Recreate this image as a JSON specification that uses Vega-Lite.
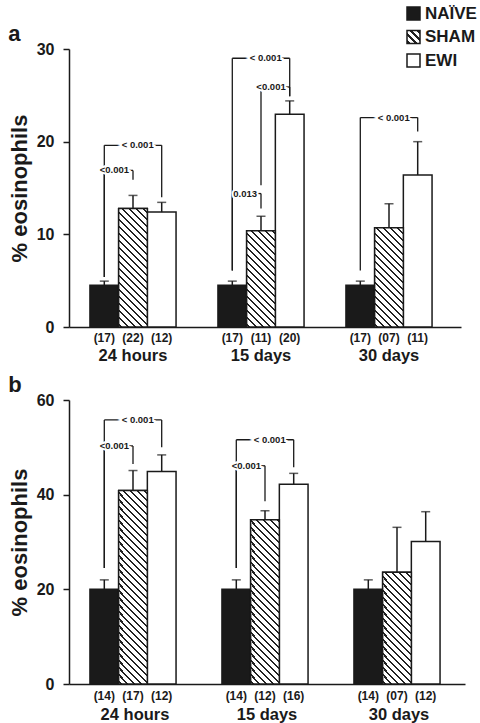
{
  "$schema": "https://vega.github.io/schema/vega-lite/v6.json",
  "padding": {"left": 8, "top": 5, "right": 0, "bottom": 0},
  "params": [
    {"name": "hatch", "value": [
      {"offset":0.005,"color":"#fff"},{"offset":0.005,"color":"#222"},{"offset":0.0125,"color":"#222"},{"offset":0.0125,"color":"#fff"},
      {"offset":0.03,"color":"#fff"},{"offset":0.03,"color":"#222"},{"offset":0.0375,"color":"#222"},{"offset":0.0375,"color":"#fff"},
      {"offset":0.055,"color":"#fff"},{"offset":0.055,"color":"#222"},{"offset":0.0625,"color":"#222"},{"offset":0.0625,"color":"#fff"},
      {"offset":0.08,"color":"#fff"},{"offset":0.08,"color":"#222"},{"offset":0.0875,"color":"#222"},{"offset":0.0875,"color":"#fff"},
      {"offset":0.105,"color":"#fff"},{"offset":0.105,"color":"#222"},{"offset":0.1125,"color":"#222"},{"offset":0.1125,"color":"#fff"},
      {"offset":0.13,"color":"#fff"},{"offset":0.13,"color":"#222"},{"offset":0.1375,"color":"#222"},{"offset":0.1375,"color":"#fff"},
      {"offset":0.155,"color":"#fff"},{"offset":0.155,"color":"#222"},{"offset":0.1625,"color":"#222"},{"offset":0.1625,"color":"#fff"},
      {"offset":0.18,"color":"#fff"},{"offset":0.18,"color":"#222"},{"offset":0.1875,"color":"#222"},{"offset":0.1875,"color":"#fff"},
      {"offset":0.205,"color":"#fff"},{"offset":0.205,"color":"#222"},{"offset":0.2125,"color":"#222"},{"offset":0.2125,"color":"#fff"},
      {"offset":0.23,"color":"#fff"},{"offset":0.23,"color":"#222"},{"offset":0.2375,"color":"#222"},{"offset":0.2375,"color":"#fff"},
      {"offset":0.255,"color":"#fff"},{"offset":0.255,"color":"#222"},{"offset":0.2625,"color":"#222"},{"offset":0.2625,"color":"#fff"},
      {"offset":0.28,"color":"#fff"},{"offset":0.28,"color":"#222"},{"offset":0.2875,"color":"#222"},{"offset":0.2875,"color":"#fff"},
      {"offset":0.305,"color":"#fff"},{"offset":0.305,"color":"#222"},{"offset":0.3125,"color":"#222"},{"offset":0.3125,"color":"#fff"},
      {"offset":0.33,"color":"#fff"},{"offset":0.33,"color":"#222"},{"offset":0.3375,"color":"#222"},{"offset":0.3375,"color":"#fff"},
      {"offset":0.355,"color":"#fff"},{"offset":0.355,"color":"#222"},{"offset":0.3625,"color":"#222"},{"offset":0.3625,"color":"#fff"},
      {"offset":0.38,"color":"#fff"},{"offset":0.38,"color":"#222"},{"offset":0.3875,"color":"#222"},{"offset":0.3875,"color":"#fff"},
      {"offset":0.405,"color":"#fff"},{"offset":0.405,"color":"#222"},{"offset":0.4125,"color":"#222"},{"offset":0.4125,"color":"#fff"},
      {"offset":0.43,"color":"#fff"},{"offset":0.43,"color":"#222"},{"offset":0.4375,"color":"#222"},{"offset":0.4375,"color":"#fff"},
      {"offset":0.455,"color":"#fff"},{"offset":0.455,"color":"#222"},{"offset":0.4625,"color":"#222"},{"offset":0.4625,"color":"#fff"},
      {"offset":0.48,"color":"#fff"},{"offset":0.48,"color":"#222"},{"offset":0.4875,"color":"#222"},{"offset":0.4875,"color":"#fff"},
      {"offset":0.505,"color":"#fff"},{"offset":0.505,"color":"#222"},{"offset":0.5125,"color":"#222"},{"offset":0.5125,"color":"#fff"},
      {"offset":0.53,"color":"#fff"},{"offset":0.53,"color":"#222"},{"offset":0.5375,"color":"#222"},{"offset":0.5375,"color":"#fff"},
      {"offset":0.555,"color":"#fff"},{"offset":0.555,"color":"#222"},{"offset":0.5625,"color":"#222"},{"offset":0.5625,"color":"#fff"},
      {"offset":0.58,"color":"#fff"},{"offset":0.58,"color":"#222"},{"offset":0.5875,"color":"#222"},{"offset":0.5875,"color":"#fff"},
      {"offset":0.605,"color":"#fff"},{"offset":0.605,"color":"#222"},{"offset":0.6125,"color":"#222"},{"offset":0.6125,"color":"#fff"},
      {"offset":0.63,"color":"#fff"},{"offset":0.63,"color":"#222"},{"offset":0.6375,"color":"#222"},{"offset":0.6375,"color":"#fff"},
      {"offset":0.655,"color":"#fff"},{"offset":0.655,"color":"#222"},{"offset":0.6625,"color":"#222"},{"offset":0.6625,"color":"#fff"},
      {"offset":0.68,"color":"#fff"},{"offset":0.68,"color":"#222"},{"offset":0.6875,"color":"#222"},{"offset":0.6875,"color":"#fff"},
      {"offset":0.705,"color":"#fff"},{"offset":0.705,"color":"#222"},{"offset":0.7125,"color":"#222"},{"offset":0.7125,"color":"#fff"},
      {"offset":0.73,"color":"#fff"},{"offset":0.73,"color":"#222"},{"offset":0.7375,"color":"#222"},{"offset":0.7375,"color":"#fff"},
      {"offset":0.755,"color":"#fff"},{"offset":0.755,"color":"#222"},{"offset":0.7625,"color":"#222"},{"offset":0.7625,"color":"#fff"},
      {"offset":0.78,"color":"#fff"},{"offset":0.78,"color":"#222"},{"offset":0.7875,"color":"#222"},{"offset":0.7875,"color":"#fff"},
      {"offset":0.805,"color":"#fff"},{"offset":0.805,"color":"#222"},{"offset":0.8125,"color":"#222"},{"offset":0.8125,"color":"#fff"}
    ]}
  ],
  "datasets": {
    "bars_a": [
      {"time":"24 hours","group":"NAÏVE","value":4.5,"hi":4.95,"n":"(17)"},
      {"time":"24 hours","group":"SHAM","value":12.8,"hi":14.2,"n":"(22)"},
      {"time":"24 hours","group":"EWI","value":12.4,"hi":13.45,"n":"(12)"},
      {"time":"15 days","group":"NAÏVE","value":4.5,"hi":4.95,"n":"(17)"},
      {"time":"15 days","group":"SHAM","value":10.4,"hi":11.95,"n":"(11)"},
      {"time":"15 days","group":"EWI","value":22.95,"hi":24.4,"n":"(20)"},
      {"time":"30 days","group":"NAÏVE","value":4.5,"hi":4.95,"n":"(17)"},
      {"time":"30 days","group":"SHAM","value":10.7,"hi":13.3,"n":"(07)"},
      {"time":"30 days","group":"EWI","value":16.4,"hi":20.0,"n":"(11)"}
    ],
    "brk_a": [
      {"time":"24 hours","from":"NAÏVE","to":"EWI","top":19.6,"yFrom":5.4,"yTo":14.0,"label":"< 0.001"},
      {"time":"24 hours","from":"NAÏVE","to":"SHAM","top":16.9,"yFrom":5.4,"yTo":15.9,"label":"<0.001"},
      {"time":"15 days","from":"NAÏVE","to":"EWI","top":29.0,"yFrom":6.1,"yTo":24.9,"label":"< 0.001"},
      {"time":"15 days","from":"SHAM","to":"EWI","top":25.9,"yFrom":15.3,"yTo":24.9,"label":"<0.001"},
      {"time":"15 days","from":"NAÏVE","to":"SHAM","top":14.4,"yFrom":6.1,"yTo":12.8,"label":"0.013"},
      {"time":"30 days","from":"NAÏVE","to":"EWI","top":22.6,"yFrom":6.1,"yTo":21.1,"label":"< 0.001"}
    ],
    "bars_b": [
      {"time":"24 hours","group":"NAÏVE","value":20.0,"hi":22.0,"n":"(14)"},
      {"time":"24 hours","group":"SHAM","value":40.9,"hi":45.1,"n":"(17)"},
      {"time":"24 hours","group":"EWI","value":44.9,"hi":48.4,"n":"(12)"},
      {"time":"15 days","group":"NAÏVE","value":20.0,"hi":22.0,"n":"(14)"},
      {"time":"15 days","group":"SHAM","value":34.7,"hi":36.6,"n":"(12)"},
      {"time":"15 days","group":"EWI","value":42.2,"hi":44.5,"n":"(16)"},
      {"time":"30 days","group":"NAÏVE","value":20.0,"hi":22.0,"n":"(14)"},
      {"time":"30 days","group":"SHAM","value":23.6,"hi":33.1,"n":"(07)"},
      {"time":"30 days","group":"EWI","value":30.1,"hi":36.4,"n":"(12)"}
    ],
    "brk_b": [
      {"time":"24 hours","from":"NAÏVE","to":"EWI","top":55.8,"yFrom":24.5,"yTo":50.0,"label":"< 0.001"},
      {"time":"24 hours","from":"NAÏVE","to":"SHAM","top":50.3,"yFrom":24.5,"yTo":46.5,"label":"<0.001"},
      {"time":"15 days","from":"NAÏVE","to":"EWI","top":51.6,"yFrom":24.5,"yTo":45.8,"label":"< 0.001"},
      {"time":"15 days","from":"NAÏVE","to":"SHAM","top":46.1,"yFrom":24.5,"yTo":38.6,"label":"<0.001"}
    ]
  },
  "spacing": 10,
  "vconcat": [
    {
      "width": 392, "height": 278,
      "title": {"text": "a", "anchor": "start", "frame": "bounds", "fontSize": 22, "fontWeight": "bold", "color": "#1a1a1a", "offset": -5},
      "encoding": {"x": {"field": "time", "type": "nominal", "scale": {"domain": ["24 hours","15 days","30 days"], "paddingInner": 0, "paddingOuter": 0.03125, "align": 0}, "axis": {"labelPadding": 20, "title": null}}},
      "layer": [
        {"data": {"name": "bars_a"}, "mark": {"type": "bar", "stroke": "#1a1a1a", "strokeWidth": 1.5},
         "encoding": {
           "xOffset": {"field": "group", "type": "nominal", "scale": {"domain": ["NAÏVE","SHAM","EWI"], "paddingInner": 0, "paddingOuter": 0.73}},
           "y": {"field": "value", "type": "quantitative", "scale": {"domain": [0, 30]}, "axis": {"values": [0,10,20,30], "title": "% eosinophils"}},
           "fill": {"field": "group", "type": "nominal", "scale": {"domain": ["NAÏVE","SHAM","EWI"], "range": ["#1a1a1a", {"expr": "{gradient: 'linear', x1: 0, y1: 1, x2: 10.77, y2: -9.77, stops: hatch}"}, "#ffffff"]},
             "legend": {"orient": "none", "legendX": 336, "legendY": -44, "title": null, "symbolType": "square", "symbolSize": 169, "symbolStrokeColor": "#1a1a1a", "symbolStrokeWidth": 1.5, "labelFontSize": 17, "labelFontWeight": "bold", "labelColor": "#1a1a1a", "labelOffset": 3, "rowPadding": 4.5, "padding": 0,
               "encode": {"symbols": {"update": {"stroke": {"value": "#1a1a1a"}, "strokeWidth": {"value": 1.5}, "opacity": {"value": 1}}}}}}
         }},
        {"data": {"name": "bars_a"}, "transform": [{"filter": "datum.group === 'SHAM'"}],
         "mark": {"type": "bar", "stroke": "#1a1a1a", "strokeWidth": 1.5, "fill": {"expr": "{gradient: 'linear', x1: 0, y1: 1, x2: 280*28.7/(823.7+pow(datum.value*9.2667,2)), y2: 1-280*datum.value*9.2667/(823.7+pow(datum.value*9.2667,2)), stops: hatch}"}},
         "encoding": {
           "xOffset": {"field": "group", "type": "nominal", "scale": {"domain": ["NAÏVE","SHAM","EWI"], "paddingInner": 0, "paddingOuter": 0.73}},
           "y": {"field": "value", "type": "quantitative", "scale": {"domain": [0, 30]}, "axis": {"values": [0,10,20,30], "title": "% eosinophils"}}
         }},
        {"data": {"name": "bars_a"}, "mark": {"type": "rule", "color": "#1a1a1a", "strokeWidth": 1.5},
         "encoding": {
           "xOffset": {"field": "group", "type": "nominal", "scale": {"domain": ["NAÏVE","SHAM","EWI"], "paddingInner": 0, "paddingOuter": 0.73}},
           "y": {"field": "value", "type": "quantitative", "scale": {"domain": [0, 30]}, "axis": {"values": [0,10,20,30], "title": "% eosinophils"}},
           "y2": {"field": "hi"}
         }},
        {"data": {"name": "bars_a"}, "mark": {"type": "tick", "color": "#1a1a1a", "size": 9, "thickness": 1.5},
         "encoding": {
           "xOffset": {"field": "group", "type": "nominal", "scale": {"domain": ["NAÏVE","SHAM","EWI"], "paddingInner": 0, "paddingOuter": 0.73}},
           "y": {"field": "hi", "type": "quantitative", "scale": {"domain": [0, 30]}, "axis": {"values": [0,10,20,30], "title": "% eosinophils"}}
         }},
        {"data": {"name": "bars_a"}, "mark": {"type": "text", "dy": 15, "baseline": "alphabetic", "fontSize": 12, "fontWeight": "bold", "color": "#1a1a1a"},
         "encoding": {
           "xOffset": {"field": "group", "type": "nominal", "scale": {"domain": ["NAÏVE","SHAM","EWI"], "paddingInner": 0, "paddingOuter": 0.73}},
           "y": {"datum": 0, "type": "quantitative", "scale": {"domain": [0, 30]}, "axis": {"values": [0,10,20,30], "title": "% eosinophils"}},
           "text": {"field": "n"}
         }},
        {"data": {"name": "brk_a"}, "mark": {"type": "rule", "color": "#1a1a1a", "strokeWidth": 1.3},
         "encoding": {
           "xOffset": {"field": "from", "type": "nominal", "scale": {"domain": ["NAÏVE","SHAM","EWI"], "paddingInner": 0, "paddingOuter": 0.73}},
           "y": {"field": "yFrom", "type": "quantitative", "scale": {"domain": [0, 30]}, "axis": {"values": [0,10,20,30], "title": "% eosinophils"}},
           "y2": {"field": "top"}
         }},
        {"data": {"name": "brk_a"}, "mark": {"type": "rule", "color": "#1a1a1a", "strokeWidth": 1.3},
         "encoding": {
           "xOffset": {"field": "to", "type": "nominal", "scale": {"domain": ["NAÏVE","SHAM","EWI"], "paddingInner": 0, "paddingOuter": 0.73}},
           "y": {"field": "yTo", "type": "quantitative", "scale": {"domain": [0, 30]}, "axis": {"values": [0,10,20,30], "title": "% eosinophils"}},
           "y2": {"field": "top"}
         }},
        {"data": {"name": "brk_a"}, "transform": [{"fold": ["from","to"], "as": ["end","grp"]}],
         "mark": {"type": "line", "color": "#1a1a1a", "strokeWidth": 1.3},
         "encoding": {
           "xOffset": {"field": "grp", "type": "nominal", "scale": {"domain": ["NAÏVE","SHAM","EWI"], "paddingInner": 0, "paddingOuter": 0.73}},
           "y": {"field": "top", "type": "quantitative", "scale": {"domain": [0, 30]}, "axis": {"values": [0,10,20,30], "title": "% eosinophils"}},
           "detail": [{"field": "time"},{"field": "from"},{"field": "to"}]
         }},
        {"data": {"name": "brk_a"}, "transform": [{"filter": "datum.from === 'NAÏVE' && datum.to === 'EWI'"}],
         "mark": {"type": "text", "align": "right", "baseline": "middle", "dx": -8, "fontSize": 9.5, "fontWeight": "bold", "fill": "#ffffff", "stroke": "#ffffff", "strokeWidth": 4},
         "encoding": {
           "xOffset": {"field": "to", "type": "nominal", "scale": {"domain": ["NAÏVE","SHAM","EWI"], "paddingInner": 0, "paddingOuter": 0.73}},
           "y": {"field": "top", "type": "quantitative", "scale": {"domain": [0, 30]}, "axis": {"values": [0,10,20,30], "title": "% eosinophils"}},
           "text": {"field": "label"}
         }},
        {"data": {"name": "brk_a"}, "transform": [{"filter": "!(datum.from === 'NAÏVE' && datum.to === 'EWI')"}],
         "mark": {"type": "text", "align": "right", "baseline": "middle", "dx": -4, "fontSize": 9.5, "fontWeight": "bold", "fill": "#ffffff", "stroke": "#ffffff", "strokeWidth": 4},
         "encoding": {
           "xOffset": {"field": "to", "type": "nominal", "scale": {"domain": ["NAÏVE","SHAM","EWI"], "paddingInner": 0, "paddingOuter": 0.73}},
           "y": {"field": "top", "type": "quantitative", "scale": {"domain": [0, 30]}, "axis": {"values": [0,10,20,30], "title": "% eosinophils"}},
           "text": {"field": "label"}
         }},
        {"data": {"name": "brk_a"}, "transform": [{"filter": "datum.from === 'NAÏVE' && datum.to === 'EWI'"}],
         "mark": {"type": "text", "align": "right", "baseline": "middle", "dx": -8, "fontSize": 9.5, "fontWeight": "bold", "color": "#1a1a1a"},
         "encoding": {
           "xOffset": {"field": "to", "type": "nominal", "scale": {"domain": ["NAÏVE","SHAM","EWI"], "paddingInner": 0, "paddingOuter": 0.73}},
           "y": {"field": "top", "type": "quantitative", "scale": {"domain": [0, 30]}, "axis": {"values": [0,10,20,30], "title": "% eosinophils"}},
           "text": {"field": "label"}
         }},
        {"data": {"name": "brk_a"}, "transform": [{"filter": "!(datum.from === 'NAÏVE' && datum.to === 'EWI')"}],
         "mark": {"type": "text", "align": "right", "baseline": "middle", "dx": -4, "fontSize": 9.5, "fontWeight": "bold", "color": "#1a1a1a"},
         "encoding": {
           "xOffset": {"field": "to", "type": "nominal", "scale": {"domain": ["NAÏVE","SHAM","EWI"], "paddingInner": 0, "paddingOuter": 0.73}},
           "y": {"field": "top", "type": "quantitative", "scale": {"domain": [0, 30]}, "axis": {"values": [0,10,20,30], "title": "% eosinophils"}},
           "text": {"field": "label"}
         }}
      ]
    },
    {
      "width": 396, "height": 284,
      "title": {"text": "b", "anchor": "start", "frame": "bounds", "fontSize": 22, "fontWeight": "bold", "color": "#1a1a1a", "offset": -5},
      "encoding": {"x": {"field": "time", "type": "nominal", "scale": {"domain": ["24 hours","15 days","30 days"], "paddingInner": 0, "paddingOuter": 0}, "axis": {"labelPadding": 22, "title": null}}},
      "layer": [
        {"data": {"name": "bars_b"}, "mark": {"type": "bar", "stroke": "#1a1a1a", "strokeWidth": 1.5},
         "encoding": {
           "xOffset": {"field": "group", "type": "nominal", "scale": {"domain": ["NAÏVE","SHAM","EWI"], "paddingInner": 0, "paddingOuter": 0.73}},
           "y": {"field": "value", "type": "quantitative", "scale": {"domain": [0, 60]}, "axis": {"values": [0,20,40,60], "title": "% eosinophils"}},
           "fill": {"field": "group", "type": "nominal", "scale": {"domain": ["NAÏVE","SHAM","EWI"], "range": ["#1a1a1a", {"expr": "{gradient: 'linear', x1: 0, y1: 1, x2: 10.77, y2: -9.77, stops: hatch}"}, "#ffffff"]},
             "legend": {"orient": "none", "legendX": 336, "legendY": -44, "title": null, "symbolType": "square", "symbolSize": 169, "symbolStrokeColor": "#1a1a1a", "symbolStrokeWidth": 1.5, "labelFontSize": 17, "labelFontWeight": "bold", "labelColor": "#1a1a1a", "labelOffset": 3, "rowPadding": 4.5, "padding": 0,
               "encode": {"symbols": {"update": {"stroke": {"value": "#1a1a1a"}, "strokeWidth": {"value": 1.5}, "opacity": {"value": 1}}}}}}
         }},
        {"data": {"name": "bars_b"}, "transform": [{"filter": "datum.group === 'SHAM'"}],
         "mark": {"type": "bar", "stroke": "#1a1a1a", "strokeWidth": 1.5, "fill": {"expr": "{gradient: 'linear', x1: 0, y1: 1, x2: 280*29.6/(876.2+pow(datum.value*4.7333,2)), y2: 1-280*datum.value*4.7333/(876.2+pow(datum.value*4.7333,2)), stops: hatch}"}},
         "encoding": {
           "xOffset": {"field": "group", "type": "nominal", "scale": {"domain": ["NAÏVE","SHAM","EWI"], "paddingInner": 0, "paddingOuter": 0.73}},
           "y": {"field": "value", "type": "quantitative", "scale": {"domain": [0, 60]}, "axis": {"values": [0,20,40,60], "title": "% eosinophils"}}
         }},
        {"data": {"name": "bars_b"}, "mark": {"type": "rule", "color": "#1a1a1a", "strokeWidth": 1.5},
         "encoding": {
           "xOffset": {"field": "group", "type": "nominal", "scale": {"domain": ["NAÏVE","SHAM","EWI"], "paddingInner": 0, "paddingOuter": 0.73}},
           "y": {"field": "value", "type": "quantitative", "scale": {"domain": [0, 60]}, "axis": {"values": [0,20,40,60], "title": "% eosinophils"}},
           "y2": {"field": "hi"}
         }},
        {"data": {"name": "bars_b"}, "mark": {"type": "tick", "color": "#1a1a1a", "size": 9, "thickness": 1.5},
         "encoding": {
           "xOffset": {"field": "group", "type": "nominal", "scale": {"domain": ["NAÏVE","SHAM","EWI"], "paddingInner": 0, "paddingOuter": 0.73}},
           "y": {"field": "hi", "type": "quantitative", "scale": {"domain": [0, 60]}, "axis": {"values": [0,20,40,60], "title": "% eosinophils"}}
         }},
        {"data": {"name": "bars_b"}, "mark": {"type": "text", "dy": 16, "baseline": "alphabetic", "fontSize": 12, "fontWeight": "bold", "color": "#1a1a1a"},
         "encoding": {
           "xOffset": {"field": "group", "type": "nominal", "scale": {"domain": ["NAÏVE","SHAM","EWI"], "paddingInner": 0, "paddingOuter": 0.73}},
           "y": {"datum": 0, "type": "quantitative", "scale": {"domain": [0, 60]}, "axis": {"values": [0,20,40,60], "title": "% eosinophils"}},
           "text": {"field": "n"}
         }},
        {"data": {"name": "brk_b"}, "mark": {"type": "rule", "color": "#1a1a1a", "strokeWidth": 1.3},
         "encoding": {
           "xOffset": {"field": "from", "type": "nominal", "scale": {"domain": ["NAÏVE","SHAM","EWI"], "paddingInner": 0, "paddingOuter": 0.73}},
           "y": {"field": "yFrom", "type": "quantitative", "scale": {"domain": [0, 60]}, "axis": {"values": [0,20,40,60], "title": "% eosinophils"}},
           "y2": {"field": "top"}
         }},
        {"data": {"name": "brk_b"}, "mark": {"type": "rule", "color": "#1a1a1a", "strokeWidth": 1.3},
         "encoding": {
           "xOffset": {"field": "to", "type": "nominal", "scale": {"domain": ["NAÏVE","SHAM","EWI"], "paddingInner": 0, "paddingOuter": 0.73}},
           "y": {"field": "yTo", "type": "quantitative", "scale": {"domain": [0, 60]}, "axis": {"values": [0,20,40,60], "title": "% eosinophils"}},
           "y2": {"field": "top"}
         }},
        {"data": {"name": "brk_b"}, "transform": [{"fold": ["from","to"], "as": ["end","grp"]}],
         "mark": {"type": "line", "color": "#1a1a1a", "strokeWidth": 1.3},
         "encoding": {
           "xOffset": {"field": "grp", "type": "nominal", "scale": {"domain": ["NAÏVE","SHAM","EWI"], "paddingInner": 0, "paddingOuter": 0.73}},
           "y": {"field": "top", "type": "quantitative", "scale": {"domain": [0, 60]}, "axis": {"values": [0,20,40,60], "title": "% eosinophils"}},
           "detail": [{"field": "time"},{"field": "from"},{"field": "to"}]
         }},
        {"data": {"name": "brk_b"}, "transform": [{"filter": "datum.from === 'NAÏVE' && datum.to === 'EWI'"}],
         "mark": {"type": "text", "align": "right", "baseline": "middle", "dx": -8, "fontSize": 9.5, "fontWeight": "bold", "fill": "#ffffff", "stroke": "#ffffff", "strokeWidth": 4},
         "encoding": {
           "xOffset": {"field": "to", "type": "nominal", "scale": {"domain": ["NAÏVE","SHAM","EWI"], "paddingInner": 0, "paddingOuter": 0.73}},
           "y": {"field": "top", "type": "quantitative", "scale": {"domain": [0, 60]}, "axis": {"values": [0,20,40,60], "title": "% eosinophils"}},
           "text": {"field": "label"}
         }},
        {"data": {"name": "brk_b"}, "transform": [{"filter": "!(datum.from === 'NAÏVE' && datum.to === 'EWI')"}],
         "mark": {"type": "text", "align": "right", "baseline": "middle", "dx": -4, "fontSize": 9.5, "fontWeight": "bold", "fill": "#ffffff", "stroke": "#ffffff", "strokeWidth": 4},
         "encoding": {
           "xOffset": {"field": "to", "type": "nominal", "scale": {"domain": ["NAÏVE","SHAM","EWI"], "paddingInner": 0, "paddingOuter": 0.73}},
           "y": {"field": "top", "type": "quantitative", "scale": {"domain": [0, 60]}, "axis": {"values": [0,20,40,60], "title": "% eosinophils"}},
           "text": {"field": "label"}
         }},
        {"data": {"name": "brk_b"}, "transform": [{"filter": "datum.from === 'NAÏVE' && datum.to === 'EWI'"}],
         "mark": {"type": "text", "align": "right", "baseline": "middle", "dx": -8, "fontSize": 9.5, "fontWeight": "bold", "color": "#1a1a1a"},
         "encoding": {
           "xOffset": {"field": "to", "type": "nominal", "scale": {"domain": ["NAÏVE","SHAM","EWI"], "paddingInner": 0, "paddingOuter": 0.73}},
           "y": {"field": "top", "type": "quantitative", "scale": {"domain": [0, 60]}, "axis": {"values": [0,20,40,60], "title": "% eosinophils"}},
           "text": {"field": "label"}
         }},
        {"data": {"name": "brk_b"}, "transform": [{"filter": "!(datum.from === 'NAÏVE' && datum.to === 'EWI')"}],
         "mark": {"type": "text", "align": "right", "baseline": "middle", "dx": -4, "fontSize": 9.5, "fontWeight": "bold", "color": "#1a1a1a"},
         "encoding": {
           "xOffset": {"field": "to", "type": "nominal", "scale": {"domain": ["NAÏVE","SHAM","EWI"], "paddingInner": 0, "paddingOuter": 0.73}},
           "y": {"field": "top", "type": "quantitative", "scale": {"domain": [0, 60]}, "axis": {"values": [0,20,40,60], "title": "% eosinophils"}},
           "text": {"field": "label"}
         }}
      ]
    }
  ],
  "config": {
    "font": "Liberation Sans",
    "view": {"stroke": null},
    "axis": {"grid": false, "domainColor": "#1a1a1a", "domainWidth": 1.5, "tickColor": "#1a1a1a", "tickWidth": 1.5, "labelColor": "#1a1a1a", "labelFontWeight": "bold", "titleColor": "#1a1a1a", "titleFontWeight": "bold"},
    "axisY": {"tickSize": 6, "labelFontSize": 16, "labelPadding": 9, "titleFontSize": 22, "titlePadding": 5},
    "axisX": {"ticks": false, "labelFontSize": 16.5, "labelAngle": 0}
  }
}
